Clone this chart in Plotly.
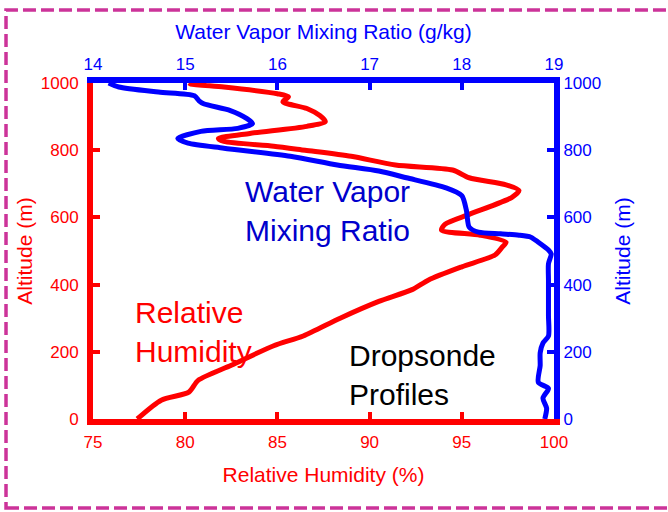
import plotly.graph_objects as go

# relative humidity profile (bottom axis)
rh_alt = [0, 56, 80, 115, 160, 218, 247, 300, 350, 385, 414, 453, 488, 512, 526, 547,
          562, 580, 609, 659, 680, 697, 718, 741, 756, 782, 800, 812, 826, 835, 850,
          871, 885, 903, 924, 944, 959, 968, 988, 997, 1000]
rh = [77.4, 78.7, 80.2, 80.7, 82.5, 84.8, 86.4, 88.4, 90.5, 92.3, 93.2, 95.0, 96.8, 97.2,
      97.4, 96.0, 93.9, 94.1, 95.4, 97.7, 98.1, 97.4, 95.4, 94.5, 91.4, 89.0, 86.5, 84.8,
      82.1, 81.8, 83.5, 86.6, 87.6, 87.3, 86.6, 85.3, 85.6, 85.0, 82.1, 80.3, 80.2]

# water vapor mixing ratio profile (top axis)
wv_alt = [0, 32, 62, 91, 109, 159, 197, 226, 247, 306, 344, 374, 414, 462, 491, 503,
          526, 541, 547, 551, 556, 571, 621, 665, 688, 718, 738, 756, 782, 806, 821,
          835, 856, 865, 879, 894, 918, 938, 947, 962, 973, 988, 1000]
wv = [18.90, 18.92, 18.88, 18.94, 18.83, 18.85, 18.85, 18.88, 18.94, 18.94, 18.94, 18.94,
      18.94, 18.94, 18.97, 18.94, 18.83, 18.75, 18.62, 18.42, 18.18, 18.08, 18.05, 18.00,
      17.83, 17.40, 17.10, 16.65, 16.14, 15.42, 15.03, 14.92, 15.17, 15.57, 15.73, 15.67,
      15.49, 15.20, 15.15, 15.10, 14.71, 14.28, 14.17]

rh_ticks = [75, 80, 85, 90, 95, 100]
wv_ticks = [14, 15, 16, 17, 18, 19]
alt_ticks = [0, 200, 400, 600, 800, 1000]

RED = "#ff0000"
BLUE = "#0000ff"
FONT = "Liberation Sans, Arial, sans-serif"

fig = go.Figure()
fig.add_trace(go.Scatter(x=rh, y=rh_alt, mode="lines",
                         line=dict(color=RED, width=5, shape="spline", smoothing=0.7),
                         xaxis="x", yaxis="y"))
fig.add_trace(go.Scatter(x=wv, y=wv_alt, mode="lines",
                         line=dict(color=BLUE, width=5, shape="spline", smoothing=0.7),
                         xaxis="x2", yaxis="y2"))

common = dict(showgrid=False, zeroline=False, showline=True, linewidth=6,
              ticks="inside", ticklen=7, tickwidth=4, automargin=False,
              tickfont=dict(size=17), title_font=dict(size=21))

fig.update_layout(
    width=668, height=512,
    margin=dict(l=93, r=114, t=83, b=93),
    paper_bgcolor="white", plot_bgcolor="white",
    font=dict(family=FONT),
    showlegend=False,
    xaxis=dict(range=[75, 100], tickvals=rh_ticks, color=RED, linecolor=RED, tickcolor=RED,
               ticklabelstandoff=3,
               title=dict(text="Relative Humidity (%)", standoff=18), **common),
    xaxis2=dict(range=[14, 19], tickvals=wv_ticks, overlaying="x", side="top", anchor="y",
                color=BLUE, linecolor=BLUE, tickcolor=BLUE,
                title=dict(text="Water Vapor Mixing Ratio (g/kg)", standoff=12), **common),
    yaxis=dict(range=[0, 1000], tickvals=alt_ticks, color=RED, linecolor=RED, tickcolor=RED,
               ticklabelstandoff=5,
               title=dict(text="Altitude (m)", standoff=4), **common),
    yaxis2=dict(range=[0, 1000], tickvals=alt_ticks, overlaying="y", side="right", anchor="x",
                color=BLUE, linecolor=BLUE, tickcolor=BLUE,
                title=dict(text="Altitude (m)", standoff=17), **common),
)

fig.add_annotation(x=0.325, y=0.619, xref="paper", yref="paper", showarrow=False,
                   text="Water Vapor<br>Mixing Ratio", align="left", xanchor="left",
                   yanchor="middle", font=dict(size=30, color="#0000cc"))
fig.add_annotation(x=0.087, y=0.260, xref="paper", yref="paper", showarrow=False,
                   text="Relative<br>Humidity", align="left", xanchor="left",
                   yanchor="middle", font=dict(size=30, color=RED))
fig.add_annotation(x=0.551, y=0.132, xref="paper", yref="paper", showarrow=False,
                   text="Dropsonde<br>Profiles", align="left", xanchor="left",
                   yanchor="middle", font=dict(size=30, color="black"))

# dashed frame around the whole figure
fig.add_shape(type="rect", xref="paper", yref="paper",
              x0=-0.1887, x1=1.256, y0=-0.265, y1=1.217,
              line=dict(color="#cc3399", width=3.5, dash="13px,5px"))

fig.write_html("out.html", config={"displayModeBar": False},
               post_script="document.body.style.margin = '0';")
